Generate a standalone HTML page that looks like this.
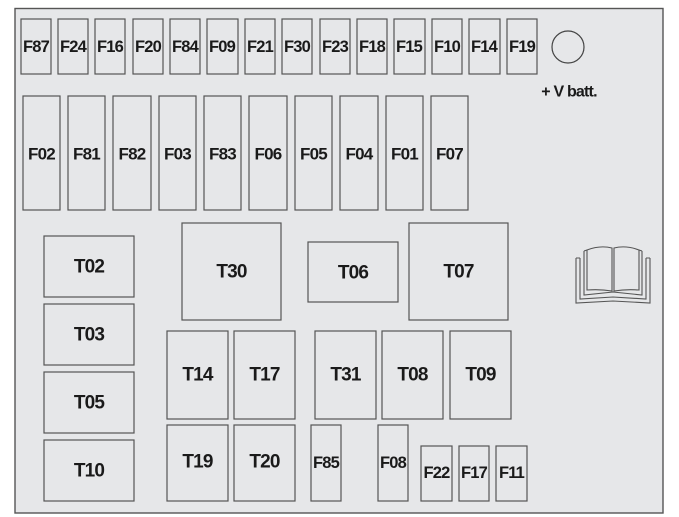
<!DOCTYPE html>
<html><head><style>
html,body{margin:0;padding:0;background:#fff;}
svg{display:block;}
text{font-family:"Liberation Sans",Arial,sans-serif;font-weight:bold;fill:#1a1a1a;text-anchor:middle;dominant-baseline:central;letter-spacing:-0.8px;}
.b{fill:#e6e7e9;stroke:#555;stroke-width:1.2;}
</style></head><body>
<svg width="679" height="517" viewBox="0 0 679 517" xmlns="http://www.w3.org/2000/svg">
<rect x="15" y="8.5" width="648" height="504.5" fill="#e6e7e9" stroke="#555" stroke-width="1.4"/>
<g font-size="16.5">
<rect class="b" x="21" y="19" width="30" height="55"/><text x="36" y="47">F87</text>
<rect class="b" x="58" y="19" width="30" height="55"/><text x="73" y="47">F24</text>
<rect class="b" x="95" y="19" width="30" height="55"/><text x="110" y="47">F16</text>
<rect class="b" x="133" y="19" width="30" height="55"/><text x="148" y="47">F20</text>
<rect class="b" x="170" y="19" width="30" height="55"/><text x="185" y="47">F84</text>
<rect class="b" x="207" y="19" width="31" height="55"/><text x="222" y="47">F09</text>
<rect class="b" x="245" y="19" width="30" height="55"/><text x="260" y="47">F21</text>
<rect class="b" x="282" y="19" width="30" height="55"/><text x="297" y="47">F30</text>
<rect class="b" x="320" y="19" width="30" height="55"/><text x="335" y="47">F23</text>
<rect class="b" x="357" y="19" width="30" height="55"/><text x="372" y="47">F18</text>
<rect class="b" x="394" y="19" width="31" height="55"/><text x="409" y="47">F15</text>
<rect class="b" x="432" y="19" width="30" height="55"/><text x="447" y="47">F10</text>
<rect class="b" x="469" y="19" width="31" height="55"/><text x="484" y="47">F14</text>
<rect class="b" x="507" y="19" width="30" height="55"/><text x="522" y="47">F19</text>
</g>
<circle cx="568" cy="47" r="16" fill="none" stroke="#444" stroke-width="1.2"/>
<text x="569" y="92" font-size="16">+ V batt.</text>
<g font-size="17">
<rect class="b" x="23" y="96" width="37" height="114"/><text x="41.5" y="154">F02</text>
<rect class="b" x="68" y="96" width="37" height="114"/><text x="86.5" y="154">F81</text>
<rect class="b" x="113" y="96" width="38" height="114"/><text x="132" y="154">F82</text>
<rect class="b" x="159" y="96" width="37" height="114"/><text x="177.5" y="154">F03</text>
<rect class="b" x="204" y="96" width="37" height="114"/><text x="222.5" y="154">F83</text>
<rect class="b" x="249" y="96" width="38" height="114"/><text x="268" y="154">F06</text>
<rect class="b" x="295" y="96" width="37" height="114"/><text x="313.5" y="154">F05</text>
<rect class="b" x="340" y="96" width="38" height="114"/><text x="359" y="154">F04</text>
<rect class="b" x="386" y="96" width="37" height="114"/><text x="404.5" y="154">F01</text>
<rect class="b" x="431" y="96" width="37" height="114"/><text x="449.5" y="154">F07</text>
</g>
<g font-size="19">
<rect class="b" x="44" y="236" width="90" height="61"/><text x="89" y="267">T02</text>
<rect class="b" x="44" y="304" width="90" height="61"/><text x="89" y="335">T03</text>
<rect class="b" x="44" y="372" width="90" height="61"/><text x="89" y="403">T05</text>
<rect class="b" x="44" y="440" width="90" height="61"/><text x="89" y="471">T10</text>
<rect class="b" x="182" y="223" width="99" height="97"/><text x="231.5" y="272">T30</text>
<rect class="b" x="308" y="242" width="90" height="60"/><text x="353" y="273">T06</text>
<rect class="b" x="409" y="223" width="99" height="97"/><text x="458.5" y="272">T07</text>
<rect class="b" x="167" y="331" width="61" height="88"/><text x="197.5" y="375">T14</text>
<rect class="b" x="234" y="331" width="61" height="88"/><text x="264.5" y="375">T17</text>
<rect class="b" x="315" y="331" width="61" height="88"/><text x="345.5" y="375">T31</text>
<rect class="b" x="382" y="331" width="61" height="88"/><text x="412.5" y="375">T08</text>
<rect class="b" x="450" y="331" width="61" height="88"/><text x="480.5" y="375">T09</text>
<rect class="b" x="167" y="425" width="61" height="76"/><text x="197.5" y="462">T19</text>
<rect class="b" x="234" y="425" width="61" height="76"/><text x="264.5" y="462">T20</text>
</g>
<g font-size="16.5">
<rect class="b" x="311" y="425" width="30" height="76"/><text x="326" y="463">F85</text>
<rect class="b" x="378" y="425" width="30" height="76"/><text x="393" y="463">F08</text>
<rect class="b" x="421" y="446" width="31" height="55"/><text x="436.5" y="473">F22</text>
<rect class="b" x="459" y="446" width="30" height="55"/><text x="474" y="473">F17</text>
<rect class="b" x="496" y="446" width="31" height="55"/><text x="511.5" y="473">F11</text>
</g>
<g fill="none" stroke="#555" stroke-width="1.1">
<path d="M576 258 L576 303 L613 301 L650 303 L650 258"/>
<path d="M580 258 L580 299 L613 297 L646 299 L646 258"/>
<path d="M576 258 L580 258 M646 258 L650 258"/>
<path d="M584 251 L584 295 L613 292 L642 295 L642 251"/>
<path d="M587 250 Q600 245 612 248 L612 291 Q600 289 587 290 Z"/>
<path d="M639 250 Q626 245 614 248 L614 291 Q626 289 639 290 Z"/>
<path d="M584 251 L587 250 M642 251 L639 250"/>
</g>
</svg>
</body></html>
